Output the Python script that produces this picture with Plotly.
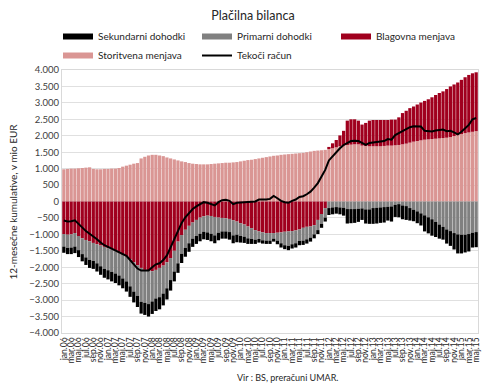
import plotly.graph_objects as go

MONTHS = ["jan", "feb", "mar", "apr", "maj", "jun", "jul", "avg", "sep", "okt", "nov", "dec"]
YEARS = ["06", "07", "08", "09", "10", "11", "12", "13", "14", "15"]
categories = [f"{m}.{y}" for y in YEARS for m in MONTHS][:113]
tick_labels = categories[::2]

storitvena = [
    980, 990, 1000, 1000, 1010, 1020, 1030, 1040, 990, 980, 980, 990,
    990, 1000, 1000, 1020, 1060, 1090, 1120, 1150, 1170, 1310, 1360, 1400,
    1420, 1420, 1400, 1380, 1340, 1310, 1280, 1250, 1220, 1200, 1170, 1150,
    1140, 1130, 1130, 1130, 1140, 1150, 1160, 1170, 1180, 1180, 1190, 1200,
    1220, 1240, 1260, 1270, 1290, 1310, 1330, 1350, 1370, 1390, 1400, 1420,
    1430, 1440, 1450, 1460, 1470, 1480, 1500, 1520, 1540, 1550, 1560, 1570,
    1600, 1620, 1650, 1680, 1700, 1720, 1730, 1740, 1740, 1700, 1690, 1680,
    1680, 1680, 1680, 1690, 1700, 1700, 1710, 1720, 1740, 1760, 1790, 1820,
    1840, 1860, 1880, 1890, 1900, 1910, 1920, 1930, 1940, 1960, 1990, 2020,
    2050, 2080, 2100, 2120, 2140,
]
blagovna = [
    -990, -1010, -1000, -960, -1050, -1120, -1170, -1210, -1260, -1300, -1340, -1380,
    -1420, -1460, -1510, -1560, -1620, -1680, -1760, -1850, -1940, -2020, -2080, -2110,
    -2120, -2080, -2020, -1950, -1850, -1720, -1500, -1220, -1020, -860, -740, -640,
    -560, -490, -450, -430, -440, -470, -490, -500, -510, -530, -570, -610,
    -660, -700, -760, -810, -870, -910, -940, -960, -960, -960, -950, -940,
    -920, -910, -900, -880, -850, -800, -770, -760, -720, -560, -380, -200,
    60, 150, 220, 330, 450, 740, 770, 760, 720, 640, 700, 780,
    800, 800, 800, 790, 780, 790, 780, 840, 950, 1000, 1050, 1070,
    1110, 1150, 1180, 1220, 1270, 1330, 1380, 1420, 1480, 1540, 1570, 1600,
    1650, 1700, 1750, 1780, 1790,
]
primarni = [
    -380, -400, -400, -410, -430, -480, -530, -570, -550, -580, -630, -670,
    -670, -680, -680, -690, -720, -750, -820, -890, -930, -1030, -1000, -1010,
    -920, -870, -890, -850, -790, -670, -630, -660, -570, -550, -530, -490,
    -490, -490, -470, -510, -540, -560, -460, -410, -400, -400, -460, -400,
    -390, -370, -360, -330, -290, -230, -240, -230, -230, -170, -240, -330,
    -410, -440, -400, -390, -350, -390, -380, -340, -280, -310, -300, -290,
    -200, -180, -170, -180, -190, -230, -230, -230, -220, -210, -240, -240,
    -200, -190, -180, -170, -160, -150, -100, -80, -120, -140, -200, -250,
    -300, -360, -420, -480, -540, -620, -700, -770, -850, -900, -960, -1000,
    -1010, -1010, -990, -950, -930,
]
sekundarni = [
    -190, -190, -200, -200, -210, -220, -230, -240, -240, -250, -260, -270,
    -280, -290, -290, -300, -300, -310, -320, -330, -340, -360, -370, -380,
    -380, -380, -370, -360, -340, -320, -300, -290, -280, -270, -260, -250,
    -240, -230, -230, -230, -230, -240, -230, -220, -220, -230, -240, -230,
    -200, -190, -170, -150, -130, -110, -100, -100, -100, -90, -110, -130,
    -120, -130, -130, -130, -130, -130, -130, -120, -120, -120, -120, -120,
    -210, -210, -200, -210, -240, -440, -430, -420, -400, -350, -430, -440,
    -480, -480, -470, -470, -420, -460, -370, -400, -420, -420, -380, -350,
    -360, -370, -490, -490, -500, -460, -430, -390, -430, -450, -500, -580,
    -570, -540, -530, -450, -460,
]
tekoci_racun = [
    -580, -610, -600, -570, -680, -800, -900, -980, -1060, -1150, -1250, -1330,
    -1380, -1430, -1480, -1530, -1580, -1650, -1780, -1920, -2040, -2100, -2090, -2100,
    -2000, -1910, -1880, -1780, -1640, -1400, -1150, -920, -650, -480, -360, -230,
    -150, -80, -20, -40, -70, -120, -20, 40, 50, 20, -80, -40,
    -30, -20, -30, -20, 0, 60, 50, 60, 80, 170, 100, 20,
    -20, -40, 20, 60, 140, 160, 220, 300, 420, 560, 760, 960,
    1250, 1380, 1500, 1620, 1720, 1790, 1840, 1850, 1840, 1780, 1720, 1780,
    1800, 1810, 1830, 1840, 1900, 1880, 2020, 2080, 2150, 2200, 2260, 2290,
    2290, 2280, 2150, 2140, 2130, 2160, 2170, 2190, 2140, 2150, 2100, 2040,
    2120, 2230, 2330, 2500, 2540,
]

C_SEK = "#000000"
C_PRI = "#808080"
C_BLA = "#a0001e"
C_STO = "#da9694"

FONT = "Lato, 'Open Sans', sans-serif"

# the page body has an 8 px default margin, so the figure is 8 px smaller
W, H = 482, 379
ML, MT, PW, PH = 54, 62, 416, 263

fig = go.Figure()

# legend entries (order as in the reference legend)
for name, col in [("Sekundarni dohodki", C_SEK), ("Primarni dohodki", C_PRI),
                  ("Blagovna menjava", C_BLA), ("Storitvena menjava", C_STO)]:
    fig.add_trace(go.Scatter(x=[categories[0]], y=[None], mode="lines", name=name,
                             legendgroup=name, line=dict(color=col, width=6),
                             hoverinfo="skip"))

# stacked bars (positives stack services then goods; negatives goods, primary, secondary)
for name, vals, col in [("Storitvena menjava", storitvena, C_STO),
                        ("Blagovna menjava", blagovna, C_BLA),
                        ("Primarni dohodki", primarni, C_PRI),
                        ("Sekundarni dohodki", sekundarni, C_SEK)]:
    fig.add_trace(go.Bar(x=categories, y=vals, name=name, legendgroup=name,
                         showlegend=False, marker=dict(color=col, line=dict(width=0))))

fig.add_trace(go.Scatter(x=categories, y=tekoci_racun, mode="lines", name="Tekoči račun",
                         line=dict(color="#000000", width=2)))

fig.update_layout(
    width=W, height=H,
    margin=dict(l=ML, r=W - ML - PW, t=MT, b=H - MT - PH, autoexpand=False),
    paper_bgcolor="white", plot_bgcolor="white",
    barmode="relative", bargap=0.12,
    separators=",.",
    font=dict(family=FONT, color="#404040", size=10),
    title=dict(text="Plačilna bilanca", x=0.5 + 4 / W, xref="container", xanchor="center",
               y=1 - 7.5 / H, yref="container", yanchor="middle",
               font=dict(size=12.5, color="#262626", family=FONT)),
    legend=dict(orientation="h", x=-0.0096, xanchor="left",
                y=1.1825, yanchor="top",
                entrywidth=94, entrywidthmode="pixels",
                font=dict(size=10, color="#262626", family=FONT),
                bgcolor="rgba(0,0,0,0)", tracegroupgap=0, itemwidth=30),
    showlegend=True,
    annotations=[
        dict(text="Vir : BS, preračuni UMAR.", xref="paper", yref="paper",
             x=0.541, y=-0.171, xanchor="center", yanchor="middle",
             showarrow=False, font=dict(size=9, color="#262626", family=FONT)),
        dict(text="12-mesečne kumulative, v mio EUR", xref="paper", yref="paper",
             x=(4 - ML) / PW, y=0.5, xanchor="center", yanchor="middle", textangle=-90,
             showarrow=False, font=dict(size=10, color="#262626", family=FONT)),
    ],
)

fig.update_xaxes(type="category", categoryorder="array", categoryarray=categories,
                 tickmode="array", tickvals=tick_labels, ticktext=tick_labels,
                 tickangle=-90, tickfont=dict(size=8.5, color="#262626", family=FONT),
                 showgrid=False, showline=True, mirror=True, linecolor="#d9d9d9",
                 linewidth=1, ticks="", range=[-0.5, len(categories) - 0.5])

fig.update_yaxes(range=[-4000, 4000], dtick=500, tickformat=",d",
                 tickfont=dict(size=9.5, color="#404040", family=FONT),
                 showgrid=True, gridcolor="#e0e0e0", gridwidth=1, zeroline=False,
                 showline=True, mirror=True, linecolor="#d9d9d9", linewidth=1,
                 ticks="")

fig.write_html("out.html")
